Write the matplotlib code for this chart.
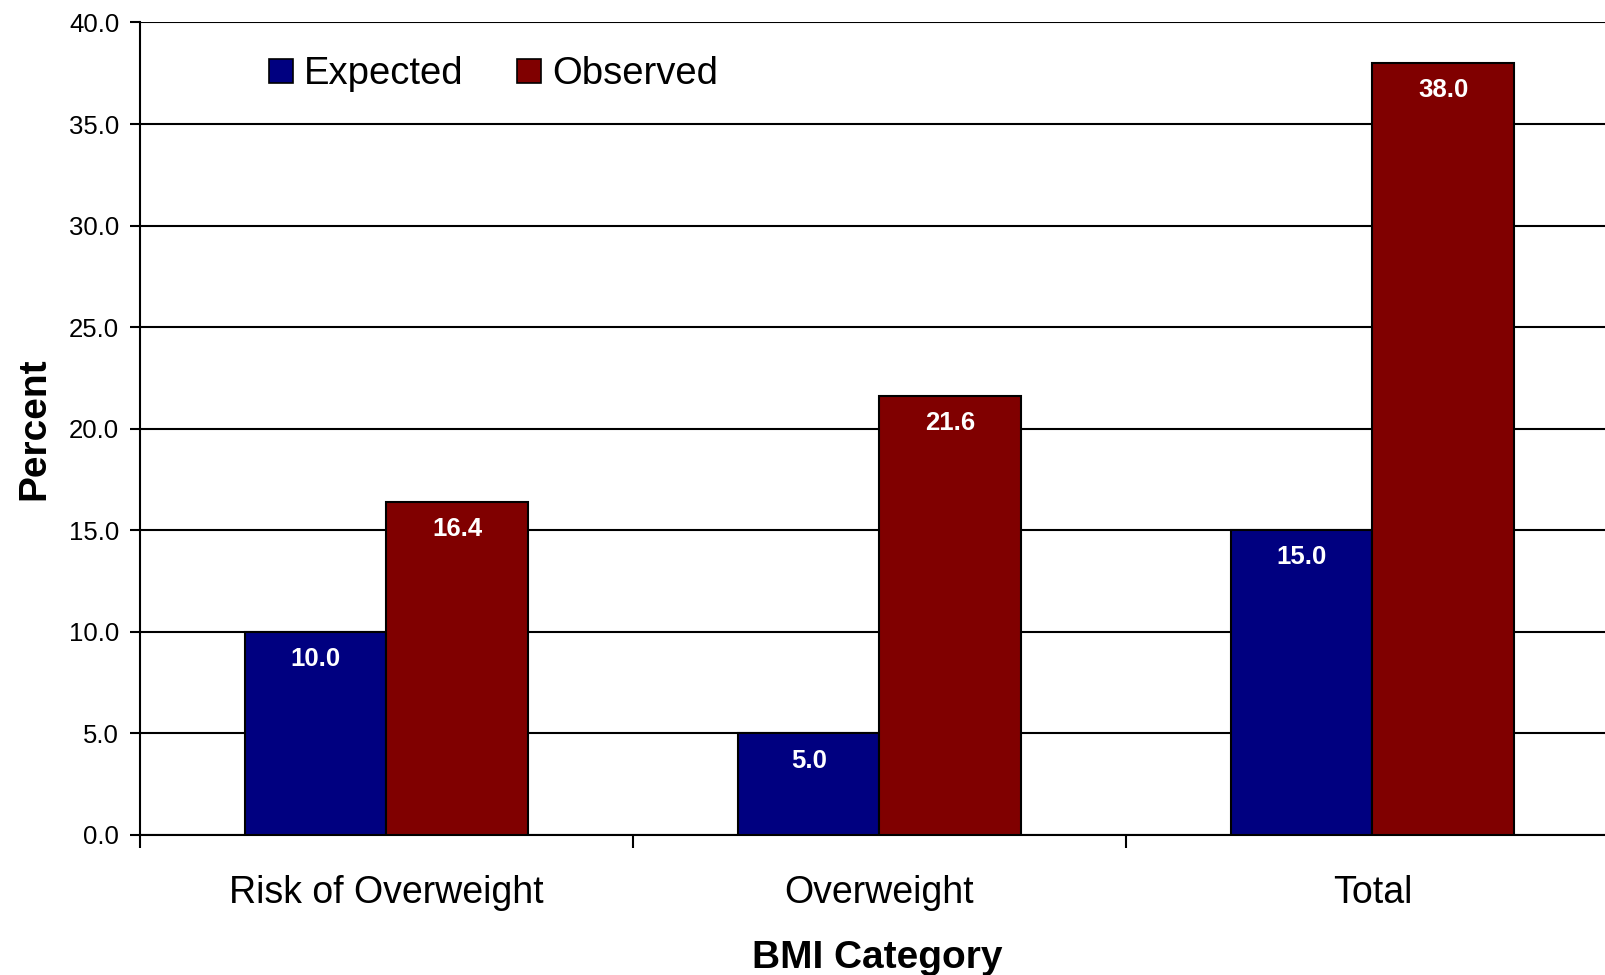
import matplotlib
matplotlib.use("Agg")
import matplotlib.pyplot as plt
import numpy as np
from matplotlib.patches import Rectangle
from matplotlib.ticker import FixedLocator, FixedFormatter

categories = ["Risk of Overweight", "Overweight", "Total"]
expected = [10.0, 5.0, 15.0]
observed = [16.4, 21.6, 38.0]
series_names = ["Expected", "Observed"]
yticks = [0, 5, 10, 15, 20, 25, 30, 35, 40]

plt.rcParams['font.family'] = ['Liberation Sans', 'DejaVu Sans']

fig = plt.figure(figsize=(16.05, 9.75), dpi=100)
ax = fig.add_axes([140/1605, 140/975, 1465/1605, 812.5/975])

x = np.arange(len(categories))
w = 0.287
c_exp = "#000080"
c_obs = "#800000"
b1 = ax.bar(x - w/2, expected, w, color=c_exp, edgecolor="black", linewidth=1.5, zorder=3)
b2 = ax.bar(x + w/2, observed, w, color=c_obs, edgecolor="black", linewidth=1.5, zorder=3)

for bars, vals in ((b1, expected), (b2, observed)):
    for r, v in zip(bars, vals):
        ax.annotate(f"{v:.1f}", (r.get_x() + r.get_width()/2, v),
                    xytext=(0, -19.5), textcoords="offset points",
                    ha="center", va="center", color="white",
                    fontsize=18.5, fontweight="bold", zorder=4)

ax.set_xlim(-0.5, 2.472)
ax.set_ylim(0, 40)
ax.set_yticks(yticks)
ax.set_yticklabels([f"{t:.1f}" for t in yticks])
ax.yaxis.grid(True, color="black", linewidth=1.5, zorder=0)
ax.set_axisbelow(True)

ax.xaxis.set_major_locator(FixedLocator(list(x)))
ax.xaxis.set_major_formatter(FixedFormatter(categories))
ax.xaxis.set_minor_locator(FixedLocator([-0.5, 0.5, 1.5]))
ax.tick_params(axis="x", which="major", length=0, pad=29, labelsize=27)
ax.tick_params(axis="x", which="minor", length=9, width=1.5, direction="out")
ax.tick_params(axis="y", length=7, width=1.5, pad=8, labelsize=18.5, colors="black")

for s in ("top", "right"):
    ax.spines[s].set_visible(False)
ax.spines["left"].set_linewidth(1.5)
ax.spines["bottom"].set_linewidth(1.5)

ax.set_ylabel("Percent", fontsize=28, fontweight="bold")
ax.yaxis.set_label_coords(-0.060, 0.5)
ax.set_xlabel("BMI Category", fontsize=28, fontweight="bold")
ax.xaxis.set_label_coords(0.503, -0.129)

handles = [Rectangle((0, 0), 1, 1, facecolor=c_exp, edgecolor="black", linewidth=1.2),
           Rectangle((0, 0), 1, 1, facecolor=c_obs, edgecolor="black", linewidth=1.2)]
ax.legend(handles, series_names, loc="center left", bbox_to_anchor=(0.088, 0.936),
          ncol=2, frameon=False, fontsize=27.5, handlelength=0.62, handleheight=0.62,
          handletextpad=0.3, columnspacing=1.4, borderpad=0, borderaxespad=0)

fig.savefig("out.png", dpi=100)
